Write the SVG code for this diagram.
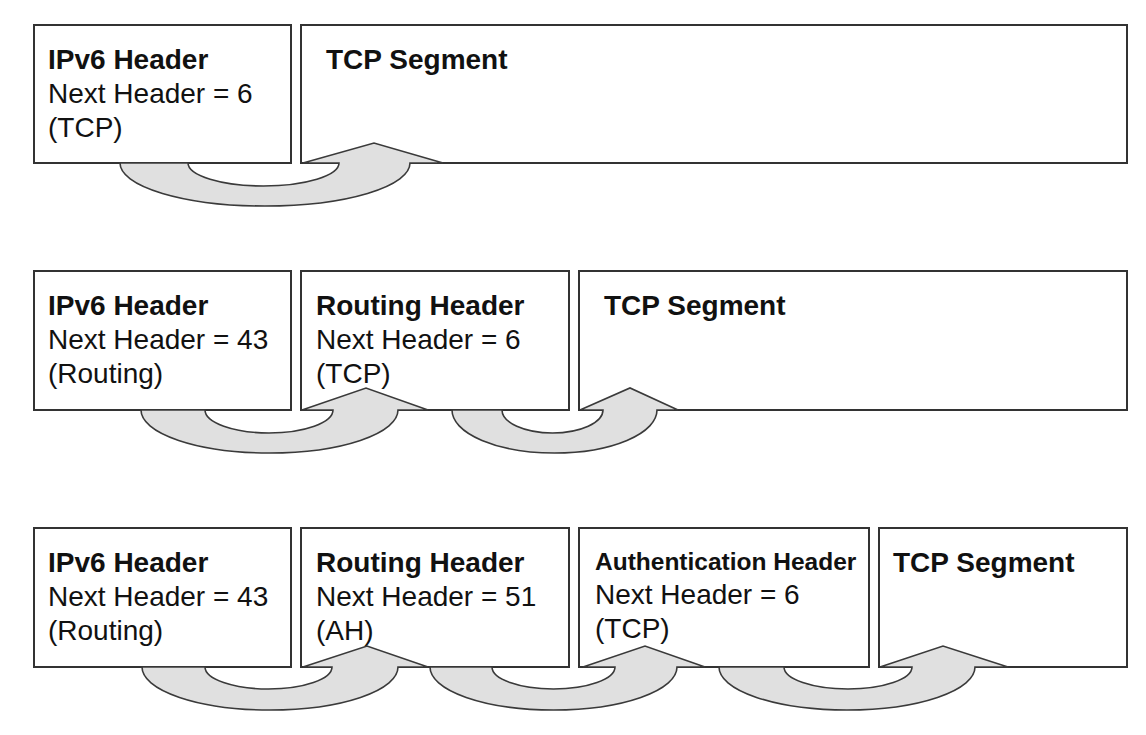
<svg xmlns="http://www.w3.org/2000/svg" width="1146" height="735" viewBox="0 0 1146 735">
<style>
.box{fill:#fff;stroke:#333;stroke-width:2}
.arr{fill:#e0e0e0;stroke:#3a3a3a;stroke-width:1.6;stroke-linejoin:miter}
text{font-family:"Liberation Sans",Arial,Helvetica,sans-serif;font-size:28px;fill:#111}
.b{font-weight:bold}
.s{font-size:24.5px}
</style>
<rect width="1146" height="735" fill="#fff"/>
<!-- Row 1 -->
<g id="r1-ipv6"><rect class="box" x="34" y="25" width="257" height="138"/>
<text class="b" x="48" y="69">IPv6 Header</text><text x="48" y="103">Next Header = 6</text><text x="48" y="137">(TCP)</text></g>
<g id="r1-tcp"><rect class="box" x="301" y="25" width="826" height="138"/>
<text class="b" x="326" y="69">TCP Segment</text></g>
<!-- Row 2 -->
<g id="r2-ipv6"><rect class="box" x="34" y="271" width="257" height="139"/>
<text class="b" x="48" y="315">IPv6 Header</text><text x="48" y="349">Next Header = 43</text><text x="48" y="383">(Routing)</text></g>
<g id="r2-routing"><rect class="box" x="301" y="271" width="268" height="139"/>
<text class="b" x="316" y="315">Routing Header</text><text x="316" y="349">Next Header = 6</text><text x="316" y="383">(TCP)</text></g>
<g id="r2-tcp"><rect class="box" x="579" y="271" width="548" height="139"/>
<text class="b" x="604" y="315">TCP Segment</text></g>
<!-- Row 3 -->
<g id="r3-ipv6"><rect class="box" x="34" y="528" width="257" height="139"/>
<text class="b" x="48" y="572">IPv6 Header</text><text x="48" y="606">Next Header = 43</text><text x="48" y="640">(Routing)</text></g>
<g id="r3-routing"><rect class="box" x="301" y="528" width="268" height="139"/>
<text class="b" x="316" y="572">Routing Header</text><text x="316" y="606">Next Header = 51</text><text x="316" y="640">(AH)</text></g>
<g id="r3-auth"><rect class="box" x="579" y="528" width="290" height="139"/>
<text class="b s" x="595" y="570">Authentication Header</text><text x="595" y="604">Next Header = 6</text><text x="595" y="638">(TCP)</text></g>
<g id="r3-tcp"><rect class="box" x="879" y="528" width="248" height="139"/>
<text class="b" x="893" y="572">TCP Segment</text></g>
<!-- Connectors -->
<g id="connectors">
<path class="arr" d="M120,163 A145,43 0 0 0 410,163 L443,163 L374,143 L303,163 L339,163 A75.5,23 0 0 1 188,163 Z"/>
<path class="arr" d="M141,410 A128.5,43 0 0 0 398,410 L428,410 L366,388 L302,410 L333,410 A64,23 0 0 1 205,410 Z"/>
<path class="arr" d="M452,410 A102.5,43 0 0 0 657,410 L678,410 L630,388 L580,410 L603,410 A50.5,23 0 0 1 502,410 Z"/>
<path class="arr" d="M142,667 A128,43 0 0 0 398,667 L428,667 L367,646 L303,667 L332,667 A63.5,22 0 0 1 205,667 Z"/>
<path class="arr" d="M430,667 A123.5,43 0 0 0 677,667 L705,667 L645,646 L583,667 L615,667 A61.5,22 0 0 1 492,667 Z"/>
<path class="arr" d="M719,667 A128,43 0 0 0 975,667 L1008,667 L943,646 L880,667 L912,667 A64,22 0 0 1 784,667 Z"/>
</g>
</svg>
